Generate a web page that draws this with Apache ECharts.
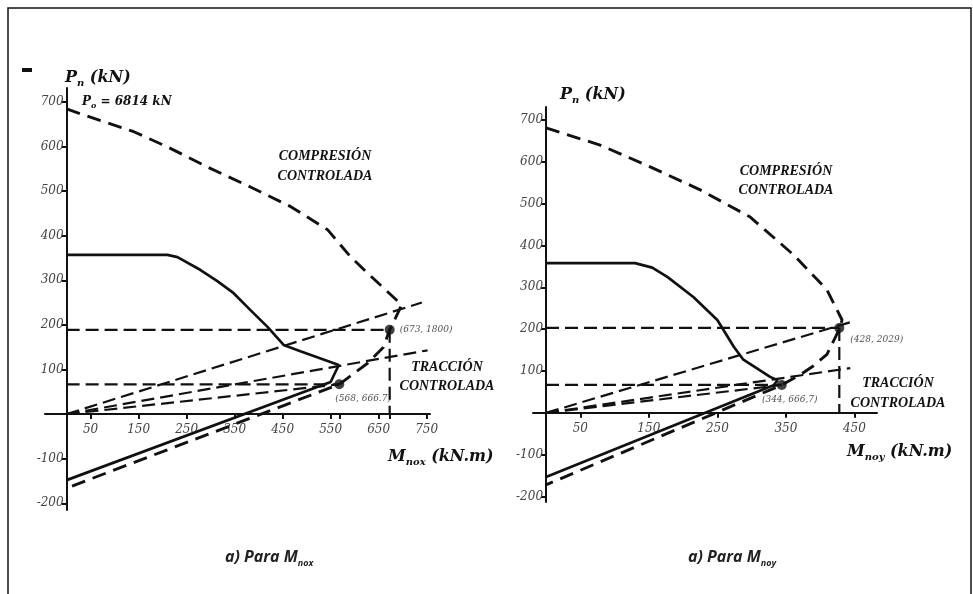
<!DOCTYPE html>
<html><head><meta charset="utf-8">
<script src="https://cdn.jsdelivr.net/npm/echarts@6/dist/echarts.min.js"></script>
<style>html,body{margin:0;padding:0;background:#fff}#c{width:973px;height:594px}</style>
</head><body><div id="c"></div>
<script>
// ---------- DATA (chart units: moment kN.m, axial load x10 kN) ----------
// Left diagram: M_nox
const leftNominal = [[0,684],[35,671],[140,633],[210,599],[293,554],[383,509],[467,465],[544,413],[592,352],[627,316],[660,283],[698,245],[685,215],[673,189],[660,150],[627,114],[568,66.7],[0,-166]];
const leftDesign = [[0,357],[210,357],[231,352],[279,323],[314,298],[348,271],[383,233],[419,195],[452,155],[487,141],[567,110],[550,72],[0,-148]];
const leftRay1 = [[0,0],[740,250]];
const leftRay2 = [[0,0],[752,143]];
const leftRay3 = [[0,0],[568,66.7]];
const leftHLine1 = [[0,189],[673,189]];
const leftHLine2 = [[0,66.7],[568,66.7]];
const leftVLine = [[673,189],[673,0]];
const leftPoints = [[673,189],[568,66.7]];
const leftPointLabels = ['(673, 1800)','(568, 666.7)'];
const leftXLabels = [50,150,250,350,450,550,650,750];
const leftXTicks = [50,150,250,350,450,550,568,650,673,750];
const leftYLabels = [-200,-100,100,200,300,400,500,600,700];

// Right diagram: M_noy
const rightNominal = [[0,681],[79,640],[152,588],[225,533],[298,468],[361,378],[410,294],[432,222],[429,203],[425,190],[410,140],[390,112],[370,90],[344,66.7],[0,-172]];
const rightDesign = [[0,358],[130,358],[155,347],[177,325],[215,277],[250,222],[274,158],[288,127],[327,86],[338,78],[332,66],[0,-153]];
const rightRay1 = [[0,0],[451,220]];
const rightRay2 = [[0,0],[444,107]];
const rightRay3 = [[0,0],[344,66.7]];
const rightHLine1 = [[0,202.9],[428,202.9]];
const rightHLine2 = [[0,66.7],[344,66.7]];
const rightVLine = [[428,202.9],[428,0]];
const rightPoints = [[428,202.9],[344,66.7]];
const rightPointLabels = ['(428, 2029)','(344, 666,7)'];
const rightXLabels = [50,150,250,350,450];
const rightYLabels = [-200,-100,100,200,300,400,500,600,700];

// ---------- CHART ----------
const INK = '#111';
const serif = 'DejaVu Serif';
const tickLabel = {fontFamily: serif, fontStyle: 'italic', fontSize: 12, color: '#444'};

const G = [
  {left:45, top:88, width:385, height:422, xmin:-45, xmax:757, ymin:-215, ymax:731},
  {left:533, top:107, width:344, height:395, xmin:-19, xmax:483, ymin:-213, ymax:731}
];
// offsets that move each axis onto the other axis' zero
function zeroY(g){ return g.top + g.ymax/(g.ymax-g.ymin)*g.height; }
function zeroX(g){ return g.left + (-g.xmin)/(g.xmax-g.xmin)*g.width; }

function xAxisCfg(gi, labels, ticks) {
  const g = G[gi];
  return {type:'value', gridIndex:gi, min:g.xmin, max:g.xmax, position:'bottom',
    offset: -((g.top+g.height) - zeroY(g)),
    axisLine:{onZero:false, lineStyle:{color:INK, width:2}},
    axisTick:{show:true, length:5, customValues:ticks, lineStyle:{color:INK, width:2}},
    axisLabel:Object.assign({customValues:labels, margin:10}, tickLabel),
    splitLine:{show:false}};
}
function yAxisCfg(gi, labels) {
  const g = G[gi];
  return {type:'value', gridIndex:gi, min:g.ymin, max:g.ymax, position:'left',
    offset: -(zeroX(g) - g.left),
    axisLine:{onZero:false, lineStyle:{color:INK, width:2}},
    axisTick:{show:true, length:5, customValues:labels, lineStyle:{color:INK, width:2}},
    axisLabel:Object.assign({customValues:labels, margin:3}, tickLabel),
    splitLine:{show:false}};
}
function line(gi, data, dash, width) {
  return {type:'line', xAxisIndex:gi, yAxisIndex:gi, data:data, showSymbol:false, silent:true,
    lineStyle:{color:INK, width:width||2.4, type:dash||'solid'}};
}
function pts(gi, data, labels, labelCfgs) {
  return {type:'scatter', xAxisIndex:gi, yAxisIndex:gi, symbolSize:10, itemStyle:{color:INK},
    data: data.map((d,i)=>({value:d, label:Object.assign({show:true, formatter:labels[i],
      fontFamily:serif, fontStyle:'italic', fontSize:9, color:'#222'}, labelCfgs[i])}))};
}

const LDASH = [14,8];
const HDASH = [13,6];

const option = {
  animation:false,
  backgroundColor:'#fff',
  grid: G.map(g=>({left:g.left, top:g.top, width:g.width, height:g.height})),
  xAxis:[ xAxisCfg(0, leftXLabels, leftXTicks), xAxisCfg(1, rightXLabels, rightXLabels) ],
  yAxis:[ yAxisCfg(0, leftYLabels), yAxisCfg(1, rightYLabels) ],
  series:[
    line(0, leftNominal, LDASH, 2.9),
    line(0, leftDesign, 'solid', 2.7),
    line(0, leftRay1, HDASH, 2.2),
    line(0, leftRay2, HDASH, 2.2),
    line(0, leftRay3, HDASH, 2.2),
    line(0, leftHLine1, HDASH, 2.2),
    line(0, leftHLine2, HDASH, 2.2),
    line(0, leftVLine, HDASH, 2.2),
    pts(0, leftPoints, leftPointLabels, [
      {position:'right', distance:5},
      {position:'bottom', align:'left', distance:5, offset:[-4,0]}
    ]),
    line(1, rightNominal, LDASH, 2.9),
    line(1, rightDesign, 'solid', 2.7),
    line(1, rightRay1, HDASH, 2.2),
    line(1, rightRay2, HDASH, 2.2),
    line(1, rightRay3, HDASH, 2.2),
    line(1, rightHLine1, HDASH, 2.2),
    line(1, rightHLine2, HDASH, 2.2),
    line(1, rightVLine, HDASH, 2.2),
    pts(1, rightPoints, rightPointLabels, [
      {position:'right', distance:6, offset:[0,12]},
      {position:'bottom', distance:5, offset:[8,0]}
    ])
  ],
  graphic:[
    {type:'rect', silent:true, shape:{x:8,y:8,width:963,height:620}, style:{fill:'none', stroke:'#111', lineWidth:1.5}},
    {type:'rect', silent:true, shape:{x:22,y:68,width:10,height:4}, style:{fill:'#111'}},
    // axis titles
    {type:'text', silent:true, x:65, y:78, style:{text:'{a|P}{b|n}{a| (kN)}', verticalAlign:'middle',
      rich:{a:{fontFamily:serif, fontStyle:'italic', fontWeight:'bold', fontSize:16, fill:'#111', lineHeight:20},
            b:{fontFamily:serif, fontStyle:'italic', fontWeight:'bold', fontSize:10, fill:'#111', lineHeight:12, verticalAlign:'bottom'}}}},
    {type:'text', silent:true, x:560, y:95, style:{text:'{a|P}{b|n}{a| (kN)}', verticalAlign:'middle',
      rich:{a:{fontFamily:serif, fontStyle:'italic', fontWeight:'bold', fontSize:16, fill:'#111', lineHeight:20},
            b:{fontFamily:serif, fontStyle:'italic', fontWeight:'bold', fontSize:10, fill:'#111', lineHeight:12, verticalAlign:'bottom'}}}},
    {type:'text', silent:true, x:82, y:102, style:{text:'{a|P}{b|o}{a| = 6814 kN}', verticalAlign:'middle',
      rich:{a:{fontFamily:serif, fontStyle:'italic', fontWeight:'bold', fontSize:12, fill:'#111', lineHeight:16},
            b:{fontFamily:serif, fontStyle:'italic', fontWeight:'bold', fontSize:8, fill:'#111', lineHeight:10, verticalAlign:'bottom'}}}},
    {type:'text', silent:true, x:388, y:457, style:{text:'{a|M}{b|nox}{a| (kN.m)}', verticalAlign:'middle',
      rich:{a:{fontFamily:serif, fontStyle:'italic', fontWeight:'bold', fontSize:16, fill:'#111', lineHeight:20},
            b:{fontFamily:serif, fontStyle:'italic', fontWeight:'bold', fontSize:10, fill:'#111', lineHeight:12, verticalAlign:'bottom'}}}},
    {type:'text', silent:true, x:847, y:452, style:{text:'{a|M}{b|noy}{a| (kN.m)}', verticalAlign:'middle',
      rich:{a:{fontFamily:serif, fontStyle:'italic', fontWeight:'bold', fontSize:16, fill:'#111', lineHeight:20},
            b:{fontFamily:serif, fontStyle:'italic', fontWeight:'bold', fontSize:10, fill:'#111', lineHeight:12, verticalAlign:'bottom'}}}},
    // region labels
    {type:'text', silent:true, x:325, y:166, style:{text:'COMPRESIÓN\nCONTROLADA', align:'center', verticalAlign:'middle', lineHeight:20,
      fontFamily:'Liberation Serif', fontStyle:'italic', fontWeight:'bold', fontSize:14, fill:'#111'}},
    {type:'text', silent:true, x:786, y:181, style:{text:'COMPRESIÓN\nCONTROLADA', align:'center', verticalAlign:'middle', lineHeight:19,
      fontFamily:'Liberation Serif', fontStyle:'italic', fontWeight:'bold', fontSize:14, fill:'#111'}},
    {type:'text', silent:true, x:447, y:377, style:{text:'TRACCIÓN\nCONTROLADA', align:'center', verticalAlign:'middle', lineHeight:19,
      fontFamily:'Liberation Serif', fontStyle:'italic', fontWeight:'bold', fontSize:14, fill:'#111'}},
    {type:'text', silent:true, x:898, y:393, style:{text:'TRACCIÓN\nCONTROLADA', align:'center', verticalAlign:'middle', lineHeight:20,
      fontFamily:'Liberation Serif', fontStyle:'italic', fontWeight:'bold', fontSize:14, fill:'#111'}},
    // captions
    {type:'text', silent:true, x:225, y:557, style:{text:'{a|a) Para M}{b|nox}', verticalAlign:'middle',
      rich:{a:{fontFamily:'Open Sans', fontStyle:'italic', fontWeight:'bold', fontSize:16, fill:'#222', lineHeight:22},
            b:{fontFamily:'Open Sans', fontStyle:'italic', fontWeight:'bold', fontSize:9, fill:'#222', lineHeight:10, verticalAlign:'bottom'}}}},
    {type:'text', silent:true, x:688, y:557, style:{text:'{a|a) Para M}{b|noy}', verticalAlign:'middle',
      rich:{a:{fontFamily:'Open Sans', fontStyle:'italic', fontWeight:'bold', fontSize:16, fill:'#222', lineHeight:22},
            b:{fontFamily:'Open Sans', fontStyle:'italic', fontWeight:'bold', fontSize:9, fill:'#222', lineHeight:10, verticalAlign:'bottom'}}}}
  ]
};
echarts.init(document.getElementById('c'), null, {renderer:'canvas'}).setOption(option);
</script></body></html>
